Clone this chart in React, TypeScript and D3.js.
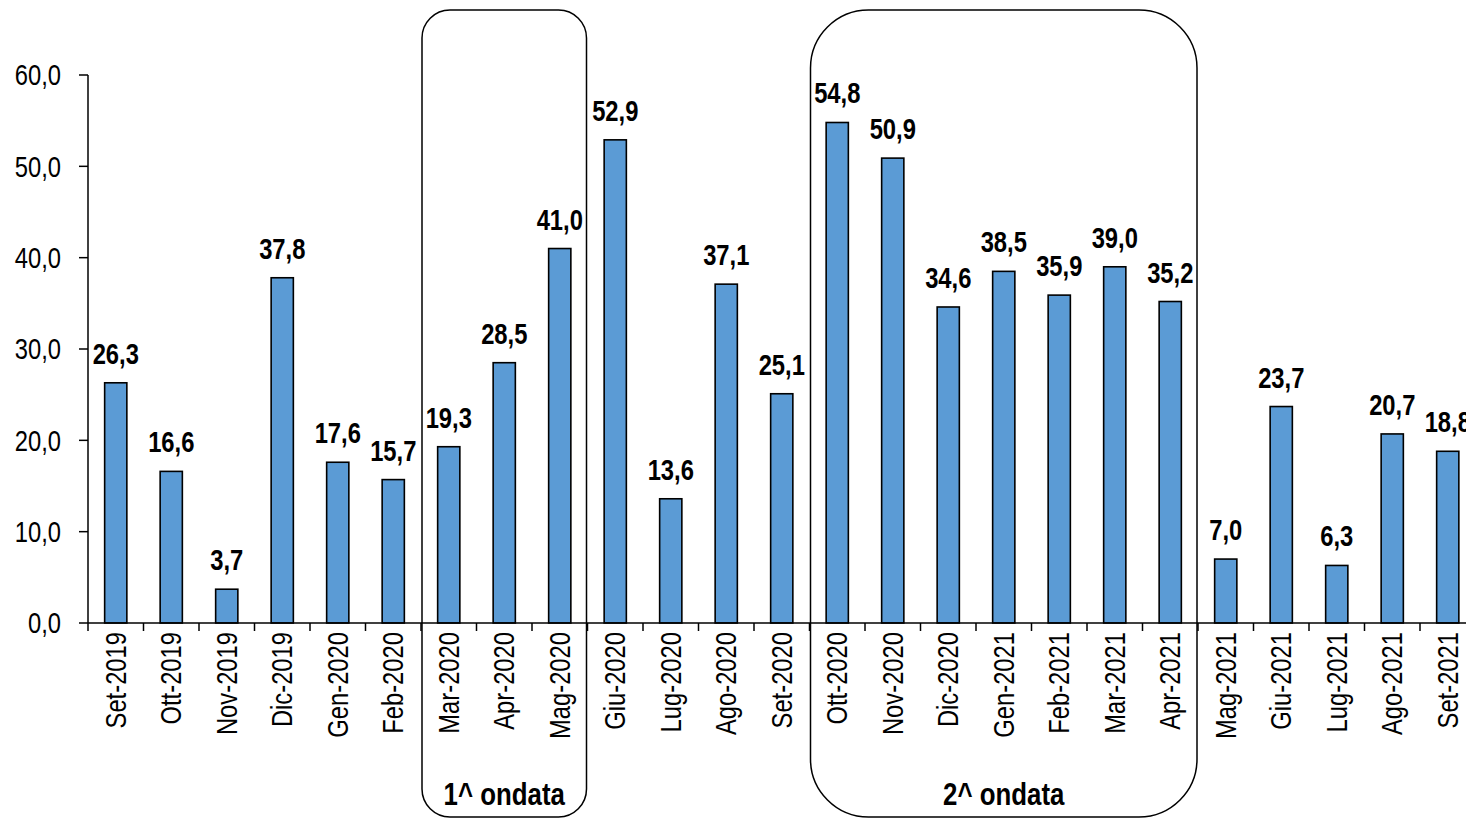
import React from "react";
import * as d3 from "d3";

// mesi e valori (%)
const months = [
  "Set-2019", "Ott-2019", "Nov-2019", "Dic-2019", "Gen-2020", "Feb-2020",
  "Mar-2020", "Apr-2020", "Mag-2020", "Giu-2020", "Lug-2020", "Ago-2020",
  "Set-2020", "Ott-2020", "Nov-2020", "Dic-2020", "Gen-2021", "Feb-2021",
  "Mar-2021", "Apr-2021", "Mag-2021", "Giu-2021", "Lug-2021", "Ago-2021",
  "Set-2021",
];
const values = [
  26.3, 16.6, 3.7, 37.8, 17.6, 15.7, 19.3, 28.5, 41.0, 52.9, 13.6, 37.1,
  25.1, 54.8, 50.9, 34.6, 38.5, 35.9, 39.0, 35.2, 7.0, 23.7, 6.3, 20.7, 18.8,
];
const yTicks = [0, 10, 20, 30, 40, 50, 60];

// ondate evidenziate: primo e ultimo mese del riquadro
const waves = [
  { label: "1^ ondata", from: "Mar-2020", to: "Mag-2020", radius: 28 },
  { label: "2^ ondata", from: "Ott-2020", to: "Apr-2021", radius: 58 },
];

const W = 1466;
const H = 819;
const FONT = "'Liberation Sans', Arial, sans-serif";
const NARROW = 0.82; // niente Arial Narrow: si stringe a mano

const fmt = (v: number) => v.toFixed(1).replace(".", ",");

// testo "narrow": trasla, ruota, poi comprime lungo la riga
function NText({
  x,
  y,
  rotate = 0,
  anchor = "middle",
  dy,
  bold,
  size = 29,
  children,
}: {
  x: number;
  y: number;
  rotate?: number;
  anchor?: string;
  dy?: string;
  bold?: boolean;
  size?: number;
  children: React.ReactNode;
}) {
  return (
    <text
      transform={`translate(${x},${y}) rotate(${rotate}) scale(${NARROW},1)`}
      textAnchor={anchor}
      dy={dy}
      fontSize={size}
      fontWeight={bold ? "bold" : "normal"}
    >
      {children}
    </text>
  );
}

export default function App() {
  const left = 88;
  const step = 55.5;
  const x = d3
    .scaleBand<string>()
    .domain(months)
    .range([left, left + months.length * step])
    .paddingInner(0.6)
    .paddingOuter(0.3);
  const y = d3.scaleLinear().domain([0, 60]).range([623, 75]);

  const gap = (x.step() - x.bandwidth()) / 2;
  const bandStart = (m: string) => (x(m) as number) - gap;
  const bandEnd = (m: string) => (x(m) as number) + x.bandwidth() + gap;
  const mid = (m: string) => (x(m) as number) + x.bandwidth() / 2;

  return (
    <svg
      width={W}
      height={H}
      style={{ position: "absolute", left: 0, top: 0, background: "#fff" }}
      fontFamily={FONT}
    >
      {/* riquadri delle ondate */}
      {waves.map((w) => {
        const x0 = bandStart(w.from) + 1;
        const x1 = bandEnd(w.to) - 1;
        return (
          <g key={w.label}>
            <rect
              x={x0}
              y={10}
              width={x1 - x0}
              height={807}
              rx={w.radius}
              ry={w.radius}
              fill="none"
              stroke="#000"
              strokeWidth={1.5}
            />
            <NText x={(x0 + x1) / 2} y={805} bold size={31.5}>
              {w.label}
            </NText>
          </g>
        );
      })}

      {/* barre */}
      {months.map((m, i) => (
        <g key={m}>
          <rect
            x={x(m)}
            y={y(values[i])}
            width={x.bandwidth()}
            height={y(0) - y(values[i])}
            fill="#5B9BD5"
            stroke="#000"
            strokeWidth={1.6}
          />
          <NText x={mid(m)} y={y(values[i]) - 19} bold>
            {fmt(values[i])}
          </NText>
        </g>
      ))}

      {/* asse y */}
      <line x1={left} x2={left} y1={y(60)} y2={y(0)} stroke="#000" strokeWidth={1.5} />
      {yTicks.map((t) => (
        <g key={t}>
          <line x1={left - 9} x2={left} y1={y(t)} y2={y(t)} stroke="#000" strokeWidth={1.5} />
          <NText x={61} y={y(t)} anchor="end" dy="0.35em">
            {fmt(t)}
          </NText>
        </g>
      ))}

      {/* asse x */}
      <line x1={left} x2={W} y1={y(0)} y2={y(0)} stroke="#000" strokeWidth={1.5} />
      {months.map((m) => (
        <line
          key={"t" + m}
          x1={bandStart(m)}
          x2={bandStart(m)}
          y1={y(0)}
          y2={y(0) + 8}
          stroke="#000"
          strokeWidth={1.5}
        />
      ))}
      {months.map((m) => (
        <NText key={"l" + m} x={mid(m)} y={y(0) + 9} rotate={-90} anchor="end" dy="0.35em">
          {m}
        </NText>
      ))}
    </svg>
  );
}
